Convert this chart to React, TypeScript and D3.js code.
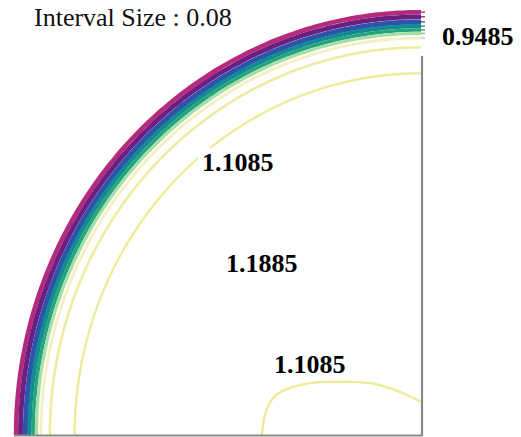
import React from 'react';
import * as d3 from 'd3';

// Contour levels of the quarter-core field (interval 0.08), outermost first
const levels = [0.4685, 0.5485, 0.6285, 0.7085, 0.7885, 0.8685, 0.9485, 1.0285, 1.1085];
// Normalised radius at which each level ring sits (1 = core boundary)
const ringRadii = [0.995, 0.984, 0.972, 0.962, 0.953, 0.945, 0.934, 0.912, 0.851];
// Closed 1.1085 contour around the central dip (normalised x from centre, y from centre)
const dipX = [0.391, 0.384, 0.372, 0.355, 0.322, 0.273, 0.174, 0.113, 0.064, 0];
const dipY = [0, 0.045, 0.075, 0.095, 0.111, 0.122, 0.125, 0.12, 0.106, 0.078];
// Region labels
const labelTexts = ['0.9485', '1.1085', '1.1885', '1.1085'];

const W = 521;
const H = 437;
const SERIF = 'Liberation Serif';

const levelColor = d3
  .scaleLinear<string>()
  .domain([0.4685, 0.5485, 0.6285, 0.7085, 0.7885, 0.8685, 0.9485, 1.0285, 1.1085])
  .range(['#b62a7d', '#6d1f7f', '#2f52ab', '#148a95', '#25a67a', '#a6deaa', '#f3f1c2', '#efeba2', '#efeb9a'])
  .clamp(true);

const strokeW = d3
  .scaleLinear()
  .domain([0.4685, 0.6285, 0.7885, 0.9485, 1.1085])
  .range([4.5, 5, 3.5, 2.8, 2.4]);

export default function App() {
  // centre of the core sits at the bottom-right corner
  const x = d3.scaleLinear().domain([0, 1]).range([421, 14]);
  const y = d3.scaleLinear().domain([0, 1]).range([435, 10]);

  const angles = d3.range(0, 91, 1).map((d) => (d * Math.PI) / 180);
  const ring = (r: number) =>
    d3
      .line<number>()
      .x((a) => x(r * Math.cos(a)))
      .y((a) => y(r * Math.sin(a)))
      .curve(d3.curveCatmullRom)(angles) as string;

  const dipPts = dipX.map((d, i) => [d, dipY[i]] as [number, number]);
  const dipPath = d3
    .line<[number, number]>()
    .x((d) => x(d[0]))
    .y((d) => y(d[1]))
    .curve(d3.curveCatmullRom)(dipPts) as string;

  return (
    <svg
      width={W}
      height={H}
      style={{ position: 'absolute', left: 0, top: 0, background: '#fff' }}
    >
      <rect width={W} height={H} fill="#fff" />
      <g fill="none">
        {levels.map((lv, i) => (
          <path
            key={i}
            d={ring(ringRadii[i])}
            stroke={levelColor(lv)}
            strokeWidth={strokeW(lv)}
          />
        ))}
        <path d={dipPath} stroke={levelColor(1.1085)} strokeWidth={2.4} />
      </g>

      {/* stubs where the rings meet the right boundary */}
      {levels.slice(0, 7).map((lv, i) => (
        <line
          key={i}
          x1={421}
          x2={425}
          y1={y(ringRadii[i])}
          y2={y(ringRadii[i])}
          stroke={d3.color(levelColor(lv))!.darker(0.6).toString()}
          strokeWidth={1.2}
        />
      ))}

      {/* core boundary axes */}
      <line x1={422} x2={422} y1={56} y2={436} stroke="#8a8a8a" strokeWidth={2.2} />
      <line x1={14} x2={423} y1={435.5} y2={435.5} stroke="#8a8a8a" strokeWidth={2.2} />

      {/* label backgrounds */}
      <rect x={198} y={148} width={80} height={28} fill="#fff" />
      <rect x={270} y={350} width={80} height={27} fill="#fff" />

      <text x={34} y={26} fontFamily={SERIF} fontSize={26} fill="#111">
        Interval Size : 0.08
      </text>
      <g fontFamily={SERIF} fontWeight="bold" fontSize={26} fill="#000">
        <text x={442} y={45}>{labelTexts[0]}</text>
        <text x={202} y={171}>{labelTexts[1]}</text>
        <text x={226} y={272}>{labelTexts[2]}</text>
        <text x={274} y={373}>{labelTexts[3]}</text>
      </g>
    </svg>
  );
}
